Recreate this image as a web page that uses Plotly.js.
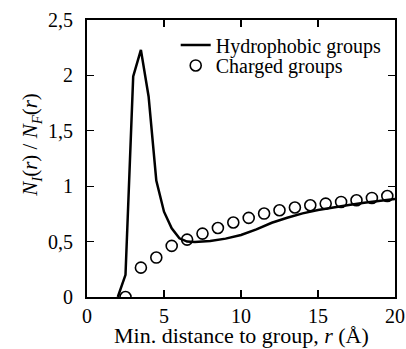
<!DOCTYPE html>
<html>
<head>
<meta charset="utf-8">
<script src="https://cdn.plot.ly/plotly-3.0.1.min.js"></script>
<style>html,body{margin:0;padding:0;background:#fff;}#chart{width:406px;height:349px;}</style>
</head>
<body>
<div id="chart"></div>
<script>
const hydroX = [2, 2.5, 3, 3.5, 4, 4.5, 5, 5.5, 6, 6.5, 7, 8, 9, 10, 11, 12, 13, 14, 15, 16, 17, 18, 19, 20];
const hydroY = [0, 0.2, 1.99, 2.23, 1.81, 1.05, 0.77, 0.62, 0.53, 0.5, 0.497, 0.505, 0.527, 0.56, 0.61, 0.67, 0.715, 0.755, 0.785, 0.81, 0.83, 0.85, 0.87, 0.885];
const chargedX = [2.5, 3.5, 4.5, 5.5, 6.5, 7.5, 8.5, 9.5, 10.5, 11.5, 12.5, 13.5, 14.5, 15.5, 16.5, 17.5, 18.5, 19.5];
const chargedY = [0, 0.265, 0.356, 0.461, 0.518, 0.572, 0.623, 0.672, 0.714, 0.753, 0.783, 0.808, 0.828, 0.843, 0.858, 0.873, 0.894, 0.912];
const xTicks = [0, 5, 10, 15, 20];
const yTicks = [0, 0.5, 1, 1.5, 2, 2.5];

const font = '"Liberation Serif", "Times New Roman", Times, serif';
const traces = [
  {x: hydroX, y: hydroY, mode: 'lines', name: 'Hydrophobic groups', legend: 'legend',
   line: {color: '#000', width: 2.5}},
  {x: chargedX, y: chargedY, mode: 'markers', name: 'Charged groups', legend: 'legend2',
   marker: {symbol: 'circle-open', size: 11, color: '#000', line: {width: 1.6, color: '#000'}}}
];
const axisCommon = {
  showgrid: false, zeroline: false, showline: true, linecolor: '#000', linewidth: 2,
  mirror: 'ticks', ticks: 'inside', ticklen: 7, tickwidth: 1.2, tickcolor: '#000',
  tickfont: {family: font, size: 20, color: '#000'}
};
const legendCommon = {xanchor: 'left', yanchor: 'middle', bgcolor: 'rgba(0,0,0,0)', borderwidth: 0,
  font: {family: font, size: 20, color: '#000'}};
const layout = {
  width: 406, height: 349,
  margin: {l: 87, r: 11, t: 20, b: 52},
  paper_bgcolor: '#fff', plot_bgcolor: '#fff',
  separators: ', ',
  font: {family: font, color: '#000'},
  showlegend: true,
  legend: Object.assign({}, legendCommon, {x: 0.288, y: 0.91}),
  legend2: Object.assign({}, legendCommon, {x: 0.288, y: 0.836}),
  xaxis: Object.assign({}, axisCommon, {range: [0, 20], tickvals: xTicks}),
  yaxis: Object.assign({}, axisCommon, {range: [0, 2.5], tickvals: yTicks, ticklabelstandoff: 8}),
  annotations: [{
    text: '<i>N<sub>I</sub></i>(<i>r</i>) / <i>N<sub>F</sub></i>(<i>r</i>)',
    xref: 'paper', yref: 'paper', x: -0.18, y: 0.548, xanchor: 'center', yanchor: 'middle',
    textangle: -90, showarrow: false, font: {family: font, size: 21, color: '#000'}
  }, {
    text: 'Min. distance to group, <i>r</i> (Å)',
    xref: 'paper', yref: 'paper', x: 0.5, y: -0.187, xanchor: 'center', yanchor: 'bottom',
    showarrow: false, font: {family: font, size: 22, color: '#000'}, borderpad: 0
  }]
};
Plotly.newPlot('chart', traces, layout, {displayModeBar: false, staticPlot: true});
</script>
</body>
</html>
